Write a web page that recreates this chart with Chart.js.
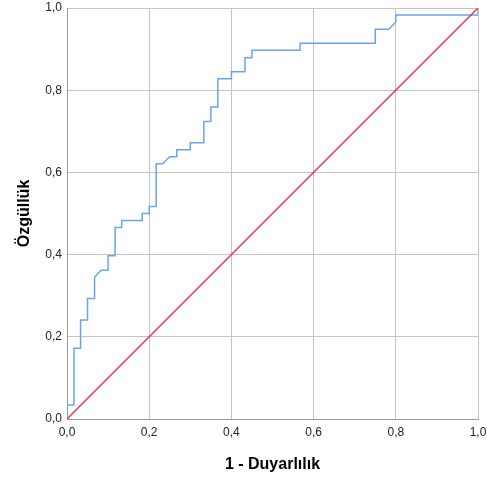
<!DOCTYPE html>
<html>
<head>
<meta charset="utf-8">
<title>ROC Eğrisi</title>
<script src="https://cdn.jsdelivr.net/npm/chart.js@4"></script>
<style>
    body { margin: 0; background: #fff; }
    canvas { display: block; }
</style>
</head>
<body>
<canvas id="chart" width="487" height="479"></canvas>
<script>
// ROC curve vertices: 1 - Duyarlılık (x) vs Özgüllük (y)
const rocX = [
    0.000, 0.000, 0.017, 0.017, 0.033, 0.033, 0.050, 0.050, 0.067, 0.067,
    0.083, 0.100, 0.100, 0.117, 0.117, 0.133, 0.133, 0.183, 0.183, 0.200,
    0.200, 0.217, 0.217, 0.233, 0.250, 0.267, 0.267, 0.300, 0.300, 0.333,
    0.333, 0.350, 0.350, 0.367, 0.367, 0.400, 0.400, 0.433, 0.433, 0.450,
    0.450, 0.567, 0.567, 0.750, 0.750, 0.783, 0.800, 0.800, 1.000, 1.000
];
const rocY = [
    0.000, 0.034, 0.034, 0.172, 0.172, 0.241, 0.241, 0.293, 0.293, 0.345,
    0.362, 0.362, 0.397, 0.397, 0.466, 0.466, 0.483, 0.483, 0.500, 0.500,
    0.517, 0.517, 0.621, 0.621, 0.638, 0.638, 0.655, 0.655, 0.672, 0.672,
    0.724, 0.724, 0.759, 0.759, 0.828, 0.828, 0.845, 0.845, 0.879, 0.879,
    0.897, 0.897, 0.914, 0.914, 0.948, 0.948, 0.966, 0.983, 0.983, 1.000
];

// reference diagonal
const refX = [0, 1];
const refY = [0, 1];

const tickValues = [0, 0.2, 0.4, 0.6, 0.8, 1.0];

const xTitle = "1 - Duyarlılık";
const yTitle = "Özgüllük";

function toPoints(xs, ys) {
    return xs.map((x, i) => ({ x: x, y: ys[i] }));
}

function formatTick(v) {
    return v.toFixed(1).replace(".", ",");
}

// fixed axis sizes, no extra room for overhanging tick labels
function fixX(s) {
    s.height = 60;
    s.paddingLeft = 0;
    s.paddingRight = 0;
}
function fixY(s) {
    s.width = 67;
    s.paddingTop = 0;
    s.paddingBottom = 0;
}

const gridColor = "#c4c4c4";
const tickFont = { family: "'Liberation Sans', Arial, sans-serif", size: 12 };
const titleFont = { family: "'Liberation Sans', Arial, sans-serif", size: 16, weight: "bold" };

new Chart(document.getElementById("chart"), {
    type: "scatter",
    data: {
        datasets: [
            {
                label: "Referans",
                data: toPoints(refX, refY),
                showLine: true,
                borderColor: "#ec2a5f",
                borderWidth: 1.4,
                pointRadius: 0,
                order: 0
            },
            {
                label: "ROC",
                data: toPoints(rocX, rocY),
                showLine: true,
                borderColor: "#6aa4ee",
                borderWidth: 1.5,
                pointRadius: 0,
                tension: 0,
                order: 1
            }
        ]
    },
    options: {
        responsive: false,
        animation: false,
        devicePixelRatio: 1,
        layout: { padding: { top: 8, right: 9, left: 0, bottom: 0 } },
        plugins: {
            legend: { display: false },
            tooltip: { enabled: false }
        },
        scales: {
            x: {
                type: "linear",
                min: 0,
                max: 1,
                afterFit: fixX,
                afterBuildTicks: s => { s.ticks = tickValues.map(v => ({ value: v })); },
                grid: { color: gridColor, drawTicks: false },
                border: { color: "#9a9a9a" },
                ticks: {
                    padding: 6,
                    color: "#222",
                    font: tickFont,
                    maxRotation: 0,
                    callback: formatTick
                },
                title: {
                    display: true,
                    text: xTitle,
                    color: "#000",
                    font: titleFont,
                    padding: { top: 0, bottom: 5 }
                }
            },
            y: {
                type: "linear",
                min: 0,
                max: 1,
                afterFit: fixY,
                afterBuildTicks: s => { s.ticks = tickValues.map(v => ({ value: v })); },
                grid: { color: gridColor, drawTicks: false },
                border: { color: "#9a9a9a" },
                ticks: {
                    padding: 5,
                    color: "#222",
                    font: tickFont,
                    callback: formatTick
                },
                title: {
                    display: true,
                    text: yTitle,
                    color: "#000",
                    font: titleFont,
                    padding: { top: 15, bottom: 0 }
                }
            }
        }
    }
});
</script>
</body>
</html>
